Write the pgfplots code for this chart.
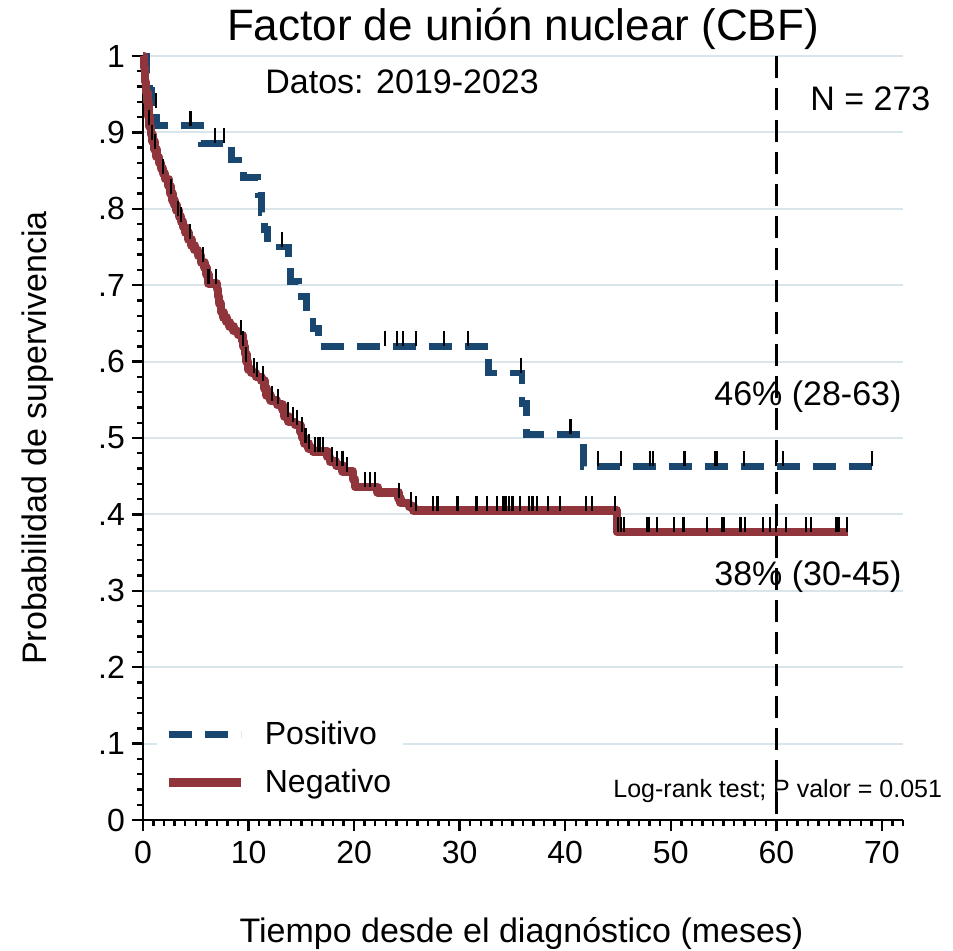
\documentclass[border=0pt]{standalone}
\usepackage{pgfplots}
\pgfplotsset{compat=1.18}
\usepackage{fontspec}
\setmainfont{Liberation Sans}
\definecolor{kmblue}{RGB}{26,71,111}
\definecolor{kmred}{RGB}{144,53,59}
\definecolor{gridc}{RGB}{218,228,235}
\pgfdeclareplotmark{cens}{\pgfpathmoveto{\pgfqpoint{0pt}{0pt}}\pgfpathlineto{\pgfqpoint{0pt}{7.5pt}}\pgfusepathqstroke}
\begin{document}
\begin{tikzpicture}
\useasboundingbox (-71.5pt,-65pt) rectangle (405pt,410pt);
\begin{axis}[
  at={(0,0)}, anchor=south west,
  scale only axis, width=380pt, height=382pt,
  xmin=0, xmax=72, ymin=0, ymax=1,
  clip=false,
  axis lines*=left,
  axis line style={line width=1.3pt, black},
  xtick={0,10,20,30,40,50,60,70},
  minor xtick={0,1,...,72},
  ytick={0,0.1,0.2,0.3,0.4,0.5,0.6,0.7,0.8,0.9,1},
  yticklabels={0,.1,.2,.3,.4,.5,.6,.7,.8,.9,1},
  minor ytick={0,0.02,...,1},
  tick align=outside,
  major tick length=5.5pt, minor tick length=3pt,
  every tick/.style={black, line width=1.2pt},
  ymajorgrids, grid style={gridc, line width=1pt},
  /pgf/number format/assume math mode=true,
  ticklabel style={font=\fontsize{16}{19}\selectfont},
  xticklabel style={yshift=-1.5pt},
  legend cell align=left,
  legend image code/.code={\draw[#1] (0pt,0pt) -- (36pt,0pt); \path[draw=none] (0pt,0pt) -- (46pt,0pt);},
  legend style={at={(axis cs:1.25,0.143)}, anchor=north west, fill=white, draw=none,
    font=\fontsize{16}{19}\selectfont, inner xsep=4pt, inner ysep=3pt, row sep=7pt},
  /tikz/every even column/.append style={column sep=12pt},
]
% Positivo (blue dashed)
\addplot[const plot, kmblue, line width=3.4pt, dash pattern=on 11.5pt off 6.5pt] coordinates {
(0,1)(0.38,0.977)(0.66,0.955)(0.85,0.932)(1.3,0.909)(5.5,0.886)(8.4,0.864)(9.5,0.841)
(10.9,0.818)(11.2,0.795)(11.5,0.773)(11.8,0.75)(13.8,0.727)(14.0,0.705)(14.7,0.685)
(15.5,0.665)(16.1,0.643)(16.6,0.62)(32.7,0.585)(35.9,0.545)(36.3,0.505)(41.7,0.463)(69.3,0.463)};
\addlegendentry{Positivo}
% Negativo (red solid)
\addplot[const plot, kmred, line width=4.3pt, line join=round] coordinates {
(0,1)(0.1,0.985)(0.2,0.966)(0.3,0.952)(0.4,0.94)(0.5,0.921)(0.6,0.908)(0.75,0.897)
(0.9,0.888)(1.1,0.878)(1.3,0.868)(1.5,0.86)(1.7,0.853)(1.9,0.846)(2.1,0.839)(2.4,0.83)
(2.6,0.82)(2.8,0.811)(3.0,0.805)(3.2,0.798)(3.4,0.79)(3.6,0.783)(3.8,0.776)(4.0,0.769)
(4.3,0.76)(4.6,0.752)(4.9,0.746)(5.2,0.739)(5.5,0.73)(5.8,0.723)(6.0,0.714)(6.2,0.702)
(7.0,0.695)(7.1,0.685)(7.2,0.676)(7.4,0.665)(7.6,0.658)(7.9,0.652)(8.2,0.646)(8.6,0.64)
(9.0,0.635)(9.4,0.627)(9.5,0.62)(9.65,0.61)(9.8,0.6)(9.95,0.59)(10.3,0.585)(10.7,0.58)
(11.2,0.575)(11.5,0.565)(11.7,0.556)(12.1,0.549)(12.7,0.544)(13.2,0.537)(13.4,0.528)
(13.8,0.521)(14.4,0.517)(14.9,0.508)(15.1,0.5)(15.3,0.493)(15.7,0.486)(16.1,0.482)
(17.5,0.475)(17.7,0.469)(18.3,0.464)(18.9,0.456)(19.9,0.446)(20.1,0.436)(22.2,0.429)
(24.2,0.421)(24.4,0.415)(25.2,0.41)(25.6,0.405)(44.9,0.377)(66.8,0.377)};
\addlegendentry{Negativo}
% vertical reference line at 60 months
\addplot[forget plot, black, line width=1.3pt, dash pattern=on 11pt off 5pt] coordinates {(60,1)(60,0)};
% censoring marks
\addplot[forget plot, only marks, mark=cens, black, mark options={line width=1.1pt, solid}] coordinates {
(1.2,0.932)(4.5,0.909)(6.8,0.886)(7.7,0.886)(13.2,0.75)(22.9,0.62)(24.1,0.62)(24.6,0.62)
(25.9,0.62)(28.5,0.62)(30.8,0.62)(35.8,0.585)(40.5,0.505)(43.1,0.463)(45.3,0.463)
(48.0,0.463)(48.3,0.463)(51.3,0.463)(54.2,0.463)(54.4,0.463)(56.9,0.463)(60.0,0.463)
(60.6,0.463)(69.1,0.463)};
\addplot[forget plot, only marks, mark=cens, black, mark options={line width=1.1pt, solid}] coordinates {
(0.57,0.91)(0.85,0.89)(1.14,0.878)(1.9,0.846)(2.65,0.82)(3.3,0.79)(3.6,0.783)(4.45,0.76)
(5.7,0.73)(6.2,0.702)(6.9,0.702)(9.3,0.635)(9.5,0.62)(9.75,0.60)(10.5,0.585)(10.8,0.58)
(11.4,0.575)(12.2,0.549)(12.8,0.544)(13.7,0.528)(14.2,0.521)(14.6,0.517)(15.1,0.508)
(15.4,0.493)(15.7,0.486)(16.3,0.482)(16.6,0.482)(16.8,0.482)(17.05,0.482)(17.9,0.469)
(18.4,0.464)(18.9,0.464)(19.3,0.456)(21.0,0.436)(21.5,0.436)(22.0,0.436)(24.25,0.421)
(25.4,0.41)(25.9,0.405)(27.5,0.405)(27.9,0.405)(29.8,0.405)(31.6,0.405)(32.6,0.405)
(33.5,0.405)(34.1,0.405)(34.2,0.405)(34.4,0.405)(34.7,0.405)(35.0,0.405)(35.7,0.405)
(36.6,0.405)(36.9,0.405)(37.3,0.405)(38.4,0.405)(39.5,0.405)(42.0,0.405)(42.5,0.405)
(44.7,0.405)(45.0,0.377)(45.3,0.377)(45.6,0.377)(47.8,0.377)(47.9,0.377)(48.7,0.377)
(50.3,0.377)(51.2,0.377)(53.4,0.377)(54.9,0.377)(55.0,0.377)(56.6,0.377)(57.0,0.377)
(58.7,0.377)(59.4,0.377)(60.0,0.377)(60.9,0.377)(62.8,0.377)(63.3,0.377)(65.7,0.377)
(65.9,0.377)(66.7,0.377)};
\end{axis}
% titles and annotations
\node[anchor=base, inner sep=0pt, font=\fontsize{22}{26}\selectfont] at (190pt,389.5pt) {Factor de unión nuclear (CBF)};
\node[anchor=base, inner sep=0pt, font=\fontsize{17}{20}\selectfont] at (189.25pt,-61pt) {Tiempo desde el diagnóstico (meses)};
\node[anchor=base, inner sep=0pt, rotate=90, font=\fontsize{17}{20}\selectfont] at (-48pt,191pt) {Probabilidad de supervivencia};
\node[anchor=base west, inner sep=0pt, font=\fontsize{17}{20}\selectfont] at (61pt,363pt) {Datos: 2019-2023};
\node[anchor=base west, inner sep=0pt, font=\fontsize{17}{20}\selectfont] at (333.5pt,355pt) {N = 273};
\node[anchor=base west, inner sep=0pt, font=\fontsize{17}{20}\selectfont] at (285.5pt,207.5pt) {46\% (28-63)};
\node[anchor=base west, inner sep=0pt, font=\fontsize{17}{20}\selectfont] at (285.5pt,117.5pt) {38\% (30-45)};
\node[anchor=base west, inner sep=0pt, font=\fontsize{12.5}{15}\selectfont] at (235pt,11.5pt) {Log-rank test; P valor = 0.051};
\end{tikzpicture}
\end{document}
